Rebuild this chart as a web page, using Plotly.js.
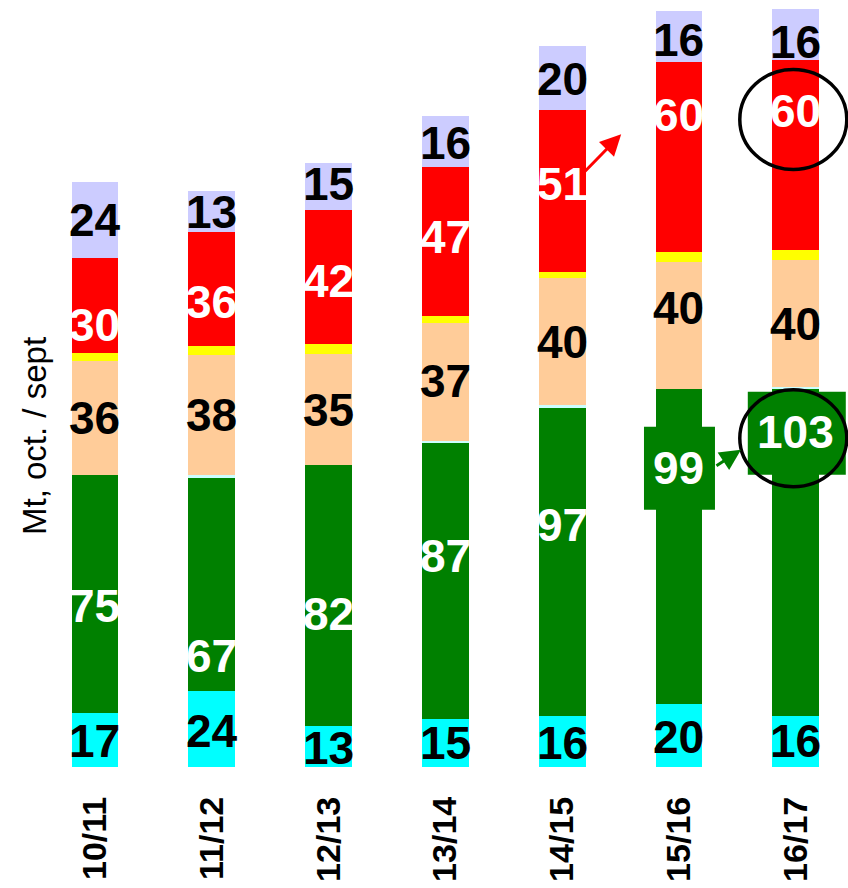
<!DOCTYPE html>
<html><head><meta charset="utf-8">
<script src="https://cdn.plot.ly/plotly-3.0.1.min.js"></script>
<style>html,body{margin:0;padding:0;background:#fff}#chart{width:848px;height:888px}</style>
</head><body><div id="chart"></div>
<script>
// ---- data ----
const campaigns = ['10/11','11/12','12/13','13/14','14/15','15/16','16/17'];
const seriesCyan = [17, 24, 13, 15, 16, 20, 16];
const seriesGreen = [75, 67, 82, 87, 97, 99, 103];
const seriesMinor = [0, 0.9, 0, 0.8, 0.9, 0, 0.6];
const seriesPeach = [36, 38, 35, 37, 40, 40, 40];
const seriesYellow = [2.4, 2.6, 3.4, 2.3, 2.1, 3.1, 3.1];
const seriesRed = [30, 36, 42, 47, 51, 60, 60];
const seriesLavender = [24, 13, 15, 16, 20, 16, 16];

// ---- label placement within each segment (0 = bottom, 1 = top) ----
const posCyan = [0.48, 0.47, 0.46, 0.51, 0.48, 0.48, 0.52];
const posGreen = [0.45, 0.165, 0.43, 0.59, 0.62, 0.75, 0.87];
const posPeach = [0.5, 0.5, 0.5, 0.51, 0.5, 0.64, 0.5];
const posRed = [0.29, 0.39, 0.47, 0.53, 0.54, 0.72, 0.73];
const posLavender = [0.49, 0.48, 0.55, 0.47, 0.49, 0.44, 0.35];

const FONT = 'Liberation Sans, Arial, sans-serif';
const BW = 0.4;

const stack = [
  {name: 'cyan', v: seriesCyan, color: '#00FFFF', pos: posCyan, txt: '#000000'},
  {name: 'vert', v: seriesGreen, color: '#008000', pos: posGreen, txt: '#FFFFFF'},
  {name: 'autre', v: seriesMinor, color: '#CCFFFF'},
  {name: 'orange', v: seriesPeach, color: '#FFCC99', pos: posPeach, txt: '#000000'},
  {name: 'jaune', v: seriesYellow, color: '#FFFF00'},
  {name: 'rouge', v: seriesRed, color: '#FF0000', pos: posRed, txt: '#FFFFFF'},
  {name: 'lavande', v: seriesLavender, color: '#CCCCFF', pos: posLavender, txt: '#000000'}
];

const traces = stack.map(s => ({
  type: 'bar', name: s.name, x: campaigns, y: s.v, width: BW,
  marker: {color: s.color, line: {width: 0}}, hoverinfo: 'skip'
}));

const annotations = [];
const base = campaigns.map(() => 0);
const labelY = {};
stack.forEach(s => {
  if (s.pos) {
    labelY[s.name] = [];
    s.v.forEach((val, i) => {
      const y = base[i] + s.pos[i] * val;
      labelY[s.name].push(y);
      annotations.push({
        x: i, y: y, xref: 'x', yref: 'y', text: String(val), showarrow: false,
        font: {family: FONT, size: 46, color: s.txt, weight: 'bold'},
        xanchor: 'center', yanchor: 'middle'
      });
    });
  }
  s.v.forEach((val, i) => { base[i] += val; });
});

// arrows
annotations.push({
  x: 4, y: labelY['rouge'][4], xref: 'x', yref: 'y', text: '', showarrow: true,
  xshift: 59, yshift: 50, ax: -41, ay: 42, arrowcolor: '#FF0000',
  arrowhead: 2, arrowsize: 1.4, arrowwidth: 3
});
annotations.push({
  x: 5, y: labelY['vert'][5], xref: 'x', yref: 'y', text: '', showarrow: true,
  xshift: 62, yshift: 18, ax: -26, ay: 17, arrowcolor: '#008000',
  arrowhead: 2, arrowsize: 1.4, arrowwidth: 3
});

// y title
annotations.push({
  x: 34 / 848, y: 1 - 436 / 767, xref: 'paper', yref: 'paper', text: 'Mt, oct. / sept',
  showarrow: false, textangle: -90, font: {family: FONT, size: 33, color: '#000'},
  xanchor: 'center', yanchor: 'middle'
});

const pixShape = (type, xa, ya, x0, x1, y0, y1, extra) => Object.assign({
  type: type, xref: 'x', yref: 'y', xsizemode: 'pixel', ysizemode: 'pixel',
  xanchor: xa, yanchor: ya, x0: x0, x1: x1, y0: y0, y1: y1, layer: 'above'
}, extra);

const shapes = [
  pixShape('rect', 5, labelY['vert'][5], -35, 36, -42, 41,
           {fillcolor: '#008000', line: {width: 0}}),
  pixShape('rect', 6, labelY['vert'][6], -48, 50, -43, 40,
           {fillcolor: '#008000', line: {width: 0}}),
  pixShape('circle', 6, labelY['rouge'][6], -56, 51, -58, 42,
           {line: {color: '#000', width: 3.5}}),
  pixShape('circle', 6, labelY['vert'][6], -56, 51, -55, 42,
           {line: {color: '#000', width: 3.5}})
];

const layout = {
  width: 848, height: 888,
  margin: {l: 0, r: 0, t: 0, b: 121, pad: 0},
  paper_bgcolor: '#fff', plot_bgcolor: '#fff',
  barmode: 'stack', showlegend: false,
  xaxis: {
    type: 'category', range: [-0.813, 6.447], showgrid: false, zeroline: false,
    showline: false, ticks: '', tickangle: -90, ticklabelstandoff: 22,
    tickfont: {family: FONT, size: 34, color: '#000', weight: 'bold'}
  },
  yaxis: {range: [0, 241.6], visible: false, showgrid: false, zeroline: false},
  annotations: annotations,
  shapes: shapes
};

Plotly.newPlot('chart', traces, layout, {displayModeBar: false, staticPlot: true});
</script>
</body></html>
